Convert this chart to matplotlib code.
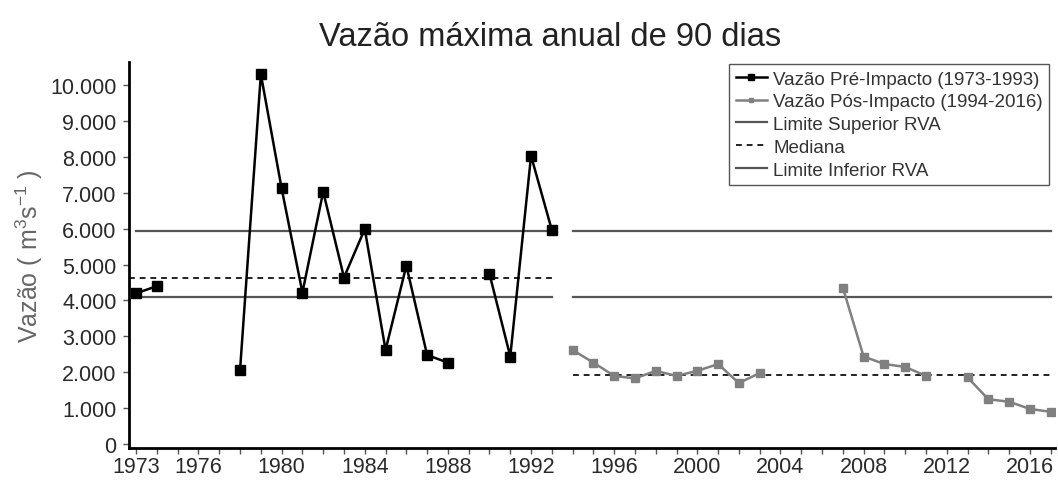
import numpy as np
import matplotlib
matplotlib.use("Agg")
import matplotlib.pyplot as plt
from matplotlib.ticker import FuncFormatter

plt.rcParams['font.family'] = ['Liberation Sans', 'DejaVu Sans']
plt.rcParams['mathtext.fontset'] = 'custom'
plt.rcParams['mathtext.rm'] = 'Liberation Sans'

# pre-impact series (NaN = no data)
pre_years = list(range(1973, 1994))
pre_vals = [4200, 4400, np.nan, np.nan, np.nan, 2070, 10300, 7120, 4220, 7030,
            4640, 5990, 2620, 4970, 2480, 2270, np.nan, 4740, 2440, 8030, 5960]

# post-impact series
post_years = list(range(1994, 2018))
post_vals = [2620, 2270, 1900, 1830, 2040, 1900, 2040, 2230, 1700, 1980,
             np.nan, np.nan, np.nan, 4360, 2440, 2230, 2150, 1900, np.nan,
             1860, 1250, 1180, 980, 900]

rva_upper = 5930
rva_lower = 4090
median_pre = 4615
median_post = 1920

xtick_years = [1973, 1976, 1980, 1984, 1988, 1992, 1996, 2000, 2004, 2008, 2012, 2016]
yticks = list(range(0, 10001, 1000))

fig = plt.figure(figsize=(10.58, 4.85), dpi=100)
ax = fig.add_axes([0.122, 0.074, 0.875, 0.796])

line_gray = '#555555'

ax.plot(pre_years, pre_vals, color='black', lw=1.8, marker='s', ms=7.5,
        label='Vazão Pré-Impacto (1973-1993)', zorder=5)
ax.plot(post_years, post_vals, color='#808080', lw=1.8, marker='s', ms=6,
        label='Vazão Pós-Impacto (1994-2016)', zorder=5)

xmin, xmax = 1972.66, 2017.2
ax.plot([pre_years[0], pre_years[-1]], [rva_upper, rva_upper], color=line_gray, lw=1.6,
        label='Limite Superior RVA')
ax.plot([xmin, pre_years[-1]], [median_pre, median_pre], color='#222222', lw=1.4,
        ls=(0, (3, 2.5)), label='Mediana')
ax.plot([pre_years[0], pre_years[-1]], [rva_lower, rva_lower], color=line_gray, lw=1.6,
        label='Limite Inferior RVA')
ax.plot([post_years[0], post_years[-1]], [rva_upper, rva_upper], color=line_gray, lw=1.6)
ax.plot([post_years[0], post_years[-1]], [median_post, median_post], color='#222222',
        lw=1.4, ls=(0, (3, 2.5)))
ax.plot([post_years[0], post_years[-1]], [rva_lower, rva_lower], color=line_gray, lw=1.6)

ax.set_xlim(xmin, xmax)
ax.set_ylim(-111, 10640)

all_years = list(range(1973, 2018))
ax.set_xticks(all_years)
ax.set_xticklabels([str(y) if y in xtick_years else '' for y in all_years])
ax.set_yticks(yticks)
ax.yaxis.set_major_formatter(FuncFormatter(lambda v, p: f"{int(v):,}".replace(',', '.')))
ax.tick_params(axis='both', labelsize=15.5, colors='#2a2a2a', length=4, width=1)
ax.tick_params(axis='y', pad=5)
ax.tick_params(axis='x', pad=2)
ax.tick_params(axis='both', color='#555555')

for s in ['top', 'right']:
    ax.spines[s].set_visible(False)
for s in ['left', 'bottom']:
    ax.spines[s].set_linewidth(2)

ax.set_ylabel(r'Vazão ( m$\mathregular{^3}$s$\mathregular{^{-1}}$ )', fontsize=18,
              color='#666666', labelpad=4)
fig.suptitle('Vazão máxima anual de 90 dias', fontsize=23.5, x=0.52, y=0.955,
             color='#222222')

leg = ax.legend(loc='upper right', bbox_to_anchor=(1.0, 1.01), fontsize=13.5,
                handlelength=1.7, handletextpad=0.3, labelspacing=0.3,
                borderpad=0.35, borderaxespad=0.3, fancybox=False, framealpha=1,
                markerscale=0.6)
leg.get_frame().set_edgecolor('#555555')
leg.get_frame().set_linewidth(1)
for t in leg.get_texts():
    t.set_color('#333333')

fig.savefig('out.png', dpi=100)
